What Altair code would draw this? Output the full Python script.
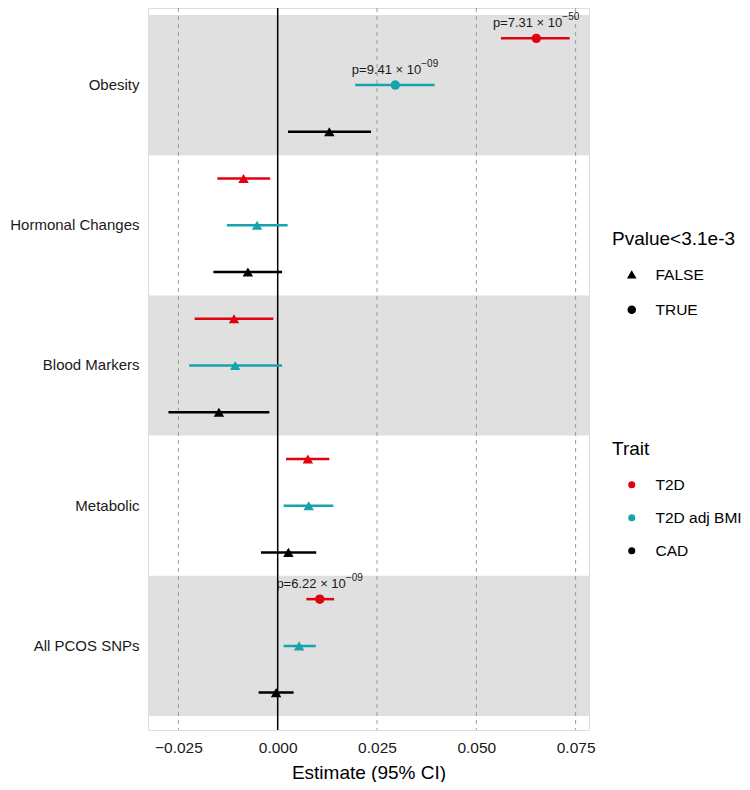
import altair as alt
import pandas as pd

categories = ["Obesity", "Hormonal Changes", "Blood Markers", "Metabolic", "All PCOS SNPs"]
traits = ["T2D", "T2D adj BMI", "CAD"]
trait_colors = ["#E3000F", "#17A3AC", "#000000"]

# values listed per category, in trait order (T2D, T2D adj BMI, CAD)
estimate = [0.0651, 0.0296, 0.0130,
            -0.0086, -0.0052, -0.0075,
            -0.0110, -0.0107, -0.0148,
            0.0076, 0.0078, 0.0027,
            0.0106, 0.0054, -0.0004]
lower = [0.0562, 0.0195, 0.0026,
         -0.0152, -0.0128, -0.0162,
         -0.0209, -0.0223, -0.0275,
         0.0021, 0.0015, -0.0042,
         0.0072, 0.0015, -0.0048]
upper = [0.0735, 0.0395, 0.0235,
         -0.0019, 0.0025, 0.0011,
         -0.0011, 0.0011, -0.0021,
         0.0130, 0.0140, 0.0097,
         0.0142, 0.0096, 0.0040]
significant = ["TRUE", "TRUE", "FALSE",
               "FALSE", "FALSE", "FALSE",
               "FALSE", "FALSE", "FALSE",
               "FALSE", "FALSE", "FALSE",
               "TRUE", "FALSE", "FALSE"]
pvalue_base = ["p=7.31 × 10", "p=9.41 × 10", "",
               "", "", "",
               "", "", "",
               "", "", "",
               "p=6.22 × 10", "", ""]
pvalue_exp = ["−50", "−09", "",
              "", "", "",
              "", "", "",
              "", "", "",
              "−09", "", ""]
shaded = ["Obesity", "Blood Markers", "All PCOS SNPs"]
x_ticks = [-0.025, 0.0, 0.025, 0.05, 0.075]
x_limits = [-0.03265, 0.07837]

rows = []
i = 0
for c in categories:
    for t in traits:
        rows.append({"category": c, "trait": t, "estimate": estimate[i],
                     "lower": lower[i], "upper": upper[i],
                     "sig": significant[i], "base": pvalue_base[i], "exp": pvalue_exp[i]})
        i += 1
df = pd.DataFrame(rows)
bands = pd.DataFrame({"category": shaded})
grid = pd.DataFrame({"tick": x_ticks, "zero": [v == 0 for v in x_ticks]})

FONT = "Liberation Sans"
xscale = alt.Scale(domain=x_limits, nice=False, zero=False)
xaxis = alt.Axis(values=x_ticks, format=".3f", grid=False, ticks=False, domain=False,
                 labelFontSize=15.5, labelColor="#1a1a1a", labelPadding=10,
                 titleFontSize=19, titleFontWeight="normal", titleColor="#000000",
                 titlePadding=8, labelFont=FONT, titleFont=FONT)
XTITLE = "Estimate (95% CI)"


def xenc(field):
    return alt.X(field, type="quantitative", scale=xscale, axis=xaxis, title=XTITLE)


yenc = alt.Y("category:N", sort=categories, title=None,
             scale=alt.Scale(domain=categories, paddingInner=0, paddingOuter=0.075, align=0.333),
             axis=alt.Axis(ticks=False, domain=False, grid=False, labelFontSize=15,
                           labelColor="#1a1a1a", labelPadding=9, labelFont=FONT,
                           labelLimit=200))
yoff = alt.YOffset("trait:N", sort=traits,
                   scale=alt.Scale(domain=traits, paddingInner=0, paddingOuter=0))
color_enc = alt.Color("trait:N", sort=traits,
                      scale=alt.Scale(domain=traits, range=trait_colors),
                      legend=alt.Legend(title="Trait", orient="none", legendX=464, legendY=432,
                                        symbolType="circle", symbolSize=50, symbolOffset=12,
                                        labelOffset=16, rowPadding=16, titlePadding=18,
                                        titleFontSize=19, titleFontWeight="normal",
                                        labelFontSize=15.5, titleFont=FONT, labelFont=FONT,
                                        titleColor="#000000", labelColor="#000000",
                                        symbolStrokeWidth=0))

band_layer = alt.Chart(bands).mark_rect(color="#E0E0E0").encode(y=yenc)

dash_layer = alt.Chart(grid).transform_filter("!datum.zero").mark_rule(
    color="#9a9a9a", strokeDash=[4, 4], strokeWidth=1).encode(x=xenc("tick"))
zero_layer = alt.Chart(grid).transform_filter("datum.zero").mark_rule(
    color="#000000", strokeWidth=1.5).encode(x=xenc("tick"))

ci_layer = alt.Chart(df).mark_rule(strokeWidth=2.5).encode(
    x=xenc("lower"), x2="upper", y=yenc, yOffset=yoff, color=color_enc)

pt_layer = alt.Chart(df).mark_point(filled=True, opacity=1).encode(
    x=xenc("estimate"), y=yenc, yOffset=yoff, color=color_enc,
    shape=alt.Shape("sig:N", sort=["FALSE", "TRUE"],
                    scale=alt.Scale(domain=["FALSE", "TRUE"], range=["triangle-up", "circle"]),
                    legend=alt.Legend(title="Pvalue<3.1e-3", orient="none", legendX=464,
                                      legendY=222, symbolSize=50, symbolOffset=12,
                                      labelOffset=16, rowPadding=18, titlePadding=18,
                                      symbolFillColor="#000000", symbolStrokeColor="#000000",
                                      titleFontSize=19, titleFontWeight="normal",
                                      labelFontSize=15.5, titleFont=FONT, labelFont=FONT,
                                      titleColor="#000000", labelColor="#000000")),
    size=alt.condition("datum.sig == 'TRUE'", alt.value(90), alt.value(110)))

base_layer = alt.Chart(df).transform_filter("datum.base != ''").mark_text(
    dy=-15, dx=26, align="right", fontSize=13, font=FONT, color="#1a1a1a",
    baseline="middle").encode(
    x=xenc("estimate"), y=yenc, yOffset=yoff, text="base:N")
exp_layer = alt.Chart(df).transform_filter("datum.exp != ''").mark_text(
    dy=-21, dx=26, align="left", fontSize=10, font=FONT, color="#1a1a1a",
    baseline="middle").encode(
    x=xenc("estimate"), y=yenc, yOffset=yoff, text="exp:N")

chart = alt.layer(band_layer, dash_layer, zero_layer, ci_layer, pt_layer,
                  base_layer, exp_layer).properties(
    width=441, height=722,
    autosize=alt.AutoSizeParams(type="none"),
    padding={"left": 140, "top": 0, "right": 153, "bottom": 52},
).configure_view(stroke=None).configure(background="white")

chart.save("out.html", embed_options={"renderer": "svg", "actions": False})
